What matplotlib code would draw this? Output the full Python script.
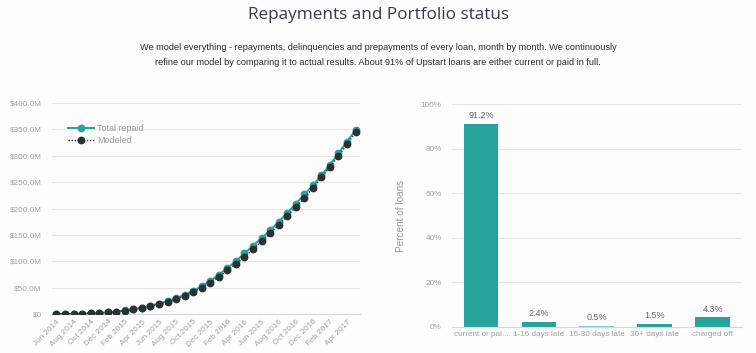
import numpy as np
import matplotlib.pyplot as plt

plt.rcParams["font.family"] = ["Liberation Sans", "DejaVu Sans"]

# monthly cumulative repayments, $M, Jun 2014 .. May 2017
months = ["Jun 2014", "Jul 2014", "Aug 2014", "Sep 2014", "Oct 2014", "Nov 2014",
          "Dec 2014", "Jan 2015", "Feb 2015", "Mar 2015", "Apr 2015", "May 2015",
          "Jun 2015", "Jul 2015", "Aug 2015", "Sep 2015", "Oct 2015", "Nov 2015",
          "Dec 2015", "Jan 2016", "Feb 2016", "Mar 2016", "Apr 2016", "May 2016",
          "Jun 2016", "Jul 2016", "Aug 2016", "Sep 2016", "Oct 2016", "Nov 2016",
          "Dec 2016", "Jan 2017", "Feb 2017", "Mar 2017", "Apr 2017", "May 2017"]
total_repaid = [0.3, 0.5, 0.8, 1.2, 1.8, 2.5, 3.5, 5.0, 7.0, 9.5, 12.5, 16.0,
                20.0, 25.0, 30.0, 37.0, 44.0, 53.0, 63.0, 75.0, 87.0, 101.0, 115.0, 130.0,
                144.0, 159.0, 175.0, 192.0, 209.0, 227.0, 244.0, 263.0, 283.0, 305.0, 327.0, 349.0]
modeled = [0.3, 0.5, 0.8, 1.2, 1.7, 2.4, 3.3, 4.7, 6.6, 9.0, 12.0, 15.3,
           19.0, 23.5, 28.0, 35.0, 42.0, 50.0, 60.0, 71.0, 83.0, 96.0, 109.0, 123.0,
           138.0, 153.0, 169.0, 186.0, 203.0, 220.0, 239.0, 259.0, 279.0, 300.0, 322.0, 345.0]

statuses = ["current or pai...", "1-16 days late", "16-30 days late", "30+ days late", "charged off"]
percent_loans = [91.2, 2.4, 0.5, 1.5, 4.3]

TEAL = "#26a39b"
DARK = "#2f2f2f"
GRID = "#e6e6e6"
TICK = "#a0a0a0"

fig = plt.figure(figsize=(7.56, 3.53), dpi=100)
fig.patch.set_facecolor("#fdfdfd")

fig.text(0.5, 0.958, "Repayments and Portfolio status", ha="center", va="center",
         fontsize=12.3, color="#3a3a44", family=["Open Sans", "DejaVu Sans"])
fig.text(0.5, 0.845,
         "We model everything - repayments, delinquencies and prepayments of every loan, month by month. We continuously\n"
         "refine our model by comparing it to actual results. About 91% of Upstart loans are either current or paid in full.",
         ha="center", va="center", fontsize=6.6, color="#2a2a2a", linespacing=1.9)

# left: repayments line chart
ax1 = fig.add_axes([0.069, 0.110, 0.407, 0.598])
ax1.set_facecolor("#fdfdfd")
x = np.arange(len(months))
ax1.plot(x, total_repaid, color=TEAL, lw=1.4, marker="o", ms=4.6, label="Total repaid", zorder=3)
ax1.plot(x, modeled, color=DARK, lw=1.0, ls=(0, (1, 1.2)), marker="o", ms=4.6, label="Modeled", zorder=4)
ax1.set_xlim(-0.5, len(months) - 0.5)
ax1.set_ylim(0, 400)
ax1.set_yticks(np.arange(0, 401, 50))
ax1.set_yticklabels(["$0"] + ["$%.1fM" % v for v in np.arange(50, 401, 50)])
ax1.set_xticks(x[::2])
ax1.set_xticklabels(months[::2], rotation=45, ha="right", rotation_mode="anchor")
ax1.grid(axis="y", color=GRID, lw=0.8)
ax1.set_axisbelow(True)
ax1.legend(loc="upper left", bbox_to_anchor=(0.035, 0.925), frameon=False,
           fontsize=6.5, labelcolor="#999999", handlelength=2.8, borderaxespad=0.2,
           labelspacing=0.35, handletextpad=0.4)

# right: portfolio status bars
ax2 = fig.add_axes([0.598, 0.074, 0.383, 0.631])
ax2.set_facecolor("#fdfdfd")
bar_colors = [TEAL, TEAL, "#7fc9c3", TEAL, TEAL]
bars = ax2.bar(np.arange(len(statuses)), percent_loans, width=0.6, color=bar_colors)
for b, v in zip(bars, percent_loans):
    ax2.text(b.get_x() + b.get_width() / 2, v + 1.5, "%.1f%%" % v, ha="center", va="bottom",
             fontsize=6.5, color="#666666")
ax2.set_xlim(-0.5, len(statuses) - 0.5)
ax2.set_ylim(0, 100)
ax2.set_yticks(np.arange(0, 101, 20))
ax2.set_yticklabels(["%d%%" % v for v in np.arange(0, 101, 20)])
ax2.set_xticks(np.arange(len(statuses)))
ax2.set_xticklabels(statuses)
ax2.set_ylabel("Percent of loans", fontsize=7.2, color="#999999", labelpad=11)
ax2.grid(axis="y", color=GRID, lw=0.8)
ax2.set_axisbelow(True)

for ax in (ax1, ax2):
    for s in ax.spines.values():
        s.set_visible(False)
    ax.spines["bottom"].set_visible(True)
    ax.spines["bottom"].set_color("#d8d8d8")
    ax.tick_params(axis="y", length=0, labelsize=5.9, labelcolor=TICK, pad=7.5)
    ax.tick_params(axis="x", length=0, labelsize=5.9, labelcolor=TICK, pad=3)

fig.savefig("out.png", dpi=100, facecolor=fig.get_facecolor())
